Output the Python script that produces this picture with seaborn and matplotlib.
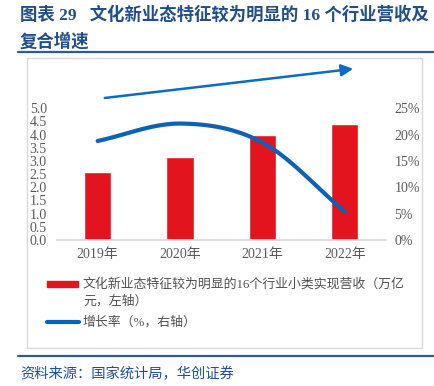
import numpy as np
import matplotlib
matplotlib.use('Agg')
import matplotlib.pyplot as plt
import seaborn as sns
from matplotlib.patches import Rectangle, FancyArrowPatch
from matplotlib.lines import Line2D

# data
years = ['2019年', '2020年', '2021年', '2022年']
revenue = [2.6, 3.15, 4.0, 4.4]          # 万亿元, left axis
growth = [18.8, 22.1, 18.5, 5.4]         # %, right axis
left_ticks = [0.0, 0.5, 1.0, 1.5, 2.0, 2.5, 3.0, 3.5, 4.0, 4.5, 5.0]
right_ticks = [0, 5, 10, 15, 20, 25]

title1 = '图表 29   文化新业态特征较为明显的 16 个行业营收及'
title2 = '复合增速'
bar_label = '文化新业态特征较为明显的16个行业小类实现营收（万亿'
bar_label2 = '元，左轴）'
line_label = '增长率（%，右轴）'
source = '资料来源：国家统计局，华创证券'

RED = '#E3141E'
BLUE = '#0B62B8'
NAVY = '#1F4E8C'
GREY = '#595959'

sns.set_theme(style='white')
mixed = ['Liberation Serif', 'Noto Sans CJK SC']
plt.rcParams['font.family'] = mixed

W, H = 434, 386
fig = plt.figure(figsize=(W / 100, H / 100), dpi=100)

def fx(px):
    return px / W

def fy(py):
    return 1 - py / H

ax = fig.add_axes([fx(56.5), fy(240), fx(386) - fx(56.5), fy(108.3) - fy(240)])
sns.barplot(x=years, y=revenue, color=RED, width=0.33, saturation=1, ax=ax)
ax.set_xlim(-0.5, 3.5)
ax.set_ylim(0, 5.0)
ax.set_yticks(left_ticks)
ax.set_yticklabels([f'{v:.1f}' for v in left_ticks])
ax.set_xlabel('')
ax.set_ylabel('')
for s in ['left', 'right', 'top']:
    ax.spines[s].set_visible(False)
ax.spines['bottom'].set_color('#D9D9D9')
ax.tick_params(axis='y', length=0, pad=7, labelsize=10, labelcolor=GREY)
ax.tick_params(axis='x', length=0, pad=6, labelsize=10, labelcolor=GREY)
ax.patch.set_alpha(0)

# smoothed growth line (Excel-like smoothing of the 4 points)
ax2 = ax.twinx()
xs = np.arange(len(growth), dtype=float)
ys = np.array(growth, dtype=float)
m = np.zeros_like(ys)
m[1:-1] = (ys[2:] - ys[:-2]) / 2
m[0] = ys[1] - ys[0]
m[-1] = ys[-1] - ys[-2]
sx, sy = [], []
for i in range(len(ys) - 1):
    t = np.linspace(0, 1, 40)
    h00 = 2 * t**3 - 3 * t**2 + 1
    h10 = t**3 - 2 * t**2 + t
    h01 = -2 * t**3 + 3 * t**2
    h11 = t**3 - t**2
    sx.extend(xs[i] + t)
    sy.extend(h00 * ys[i] + h10 * m[i] + h01 * ys[i + 1] + h11 * m[i + 1])
sns.lineplot(x=sx, y=sy, color=BLUE, linewidth=3, sort=False, ax=ax2)
ax2.set_ylim(0, 25)
ax2.set_yticks(right_ticks)
ax2.set_yticklabels([f'{v}%' for v in right_ticks])
for s in ['left', 'right', 'top', 'bottom']:
    ax2.spines[s].set_visible(False)
ax2.tick_params(axis='y', length=0, pad=6, labelsize=10, labelcolor=GREY)
ax2.set_xlim(-0.5, 3.5)

# frame and rules
fig.patches.append(Rectangle((fx(27), fy(348)), fx(422) - fx(27), fy(58) - fy(348),
                             transform=fig.transFigure, fill=False,
                             edgecolor='#D9D9D9', linewidth=1))
for yy in [52.3, 355.7]:
    fig.add_artist(Line2D([fx(18), 1.0], [fy(yy), fy(yy)], color='#2E5A94',
                          linewidth=1.6, transform=fig.transFigure))

# trend arrow
fig.add_artist(FancyArrowPatch(
    (fx(102), fy(98.3)), (fx(356), fy(68.5)), transform=fig.transFigure,
    arrowstyle='-|>,head_length=3.2,head_width=1.6', color='#0A6CC2',
    linewidth=1.8, mutation_scale=2.2))

# title
fig.text(fx(20), fy(15), title1, fontsize=12.5, fontweight='bold', color=NAVY,
         va='center', ha='left')
fig.text(fx(20), fy(41.7), title2, fontsize=12.5, fontweight='bold', color=NAVY,
         va='center', ha='left')

# legend drawn by hand
fig.patches.append(Rectangle((fx(47), fy(287.3)), fx(78) - fx(47), fy(280.7) - fy(287.3),
                             transform=fig.transFigure, color=RED))
fig.add_artist(Line2D([fx(47), fx(79)], [fy(322), fy(322)], color=BLUE,
                      linewidth=3, transform=fig.transFigure))
fig.text(fx(83), fy(284), bar_label, fontsize=9.3, color='#505050', va='center')
fig.text(fx(83), fy(301), bar_label2, fontsize=9.3, color='#505050', va='center')
fig.text(fx(83), fy(322), line_label, fontsize=9.3, color='#505050', va='center')

# source
fig.text(fx(20), fy(374), source, fontsize=10.3, color='#1F4E9A', va='center',
         family=['Noto Sans CJK SC', 'DejaVu Sans'])

fig.savefig('out.png', dpi=100)
